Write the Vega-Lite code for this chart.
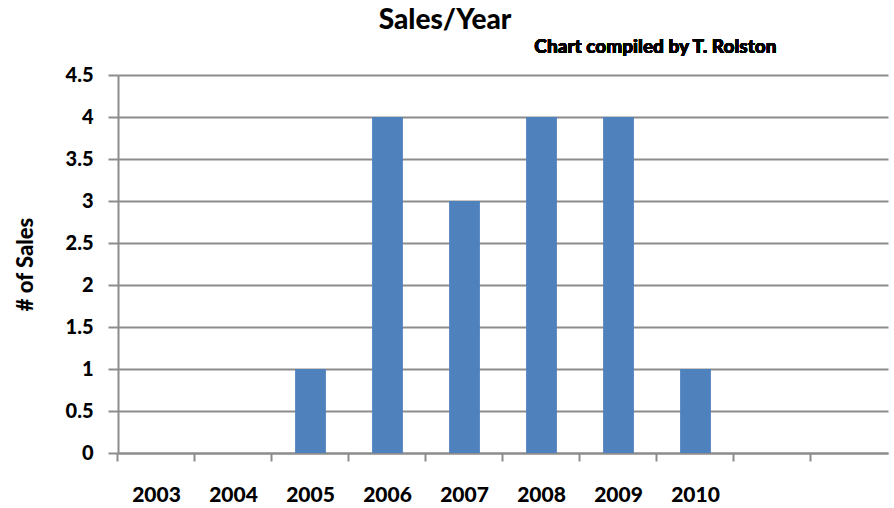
{
  "$schema": "https://vega.github.io/schema/vega-lite/v6.json",
  "width": 770,
  "height": 378,
  "autosize": {"type": "none"},
  "padding": {"left": 118, "top": 75, "right": 6, "bottom": 55},
  "background": "white",
  "title": {
    "text": "Sales/Year",
    "anchor": "middle",
    "frame": "group",
    "dx": -58,
    "offset": 3,
    "font": "Lato",
    "fontSize": 28,
    "fontWeight": 900,
    "color": "black"
  },
  "config": {
    "view": {"stroke": null},
    "font": "Lato"
  },
  "data": {
    "values": [
      {"year": "2003", "sales": 0},
      {"year": "2004", "sales": 0},
      {"year": "2005", "sales": 1},
      {"year": "2006", "sales": 4},
      {"year": "2007", "sales": 3},
      {"year": "2008", "sales": 4},
      {"year": "2009", "sales": 4},
      {"year": "2010", "sales": 1},
      {"year": "2011", "sales": 0},
      {"year": "2012", "sales": 0}
    ]
  },
  "layer": [
    {
      "mark": {"type": "bar", "color": "#4F81BD"},
      "encoding": {
        "x": {
          "field": "year",
          "type": "ordinal",
          "scale": {"paddingInner": 0.6, "paddingOuter": 0.3},
          "axis": {
            "title": null,
            "bandPosition": -0.75,
            "labelAngle": 0,
            "labelFont": "Lato",
            "labelFontSize": 21,
            "labelFontWeight": 900,
            "labelColor": "black",
            "labelPadding": 23,
            "labelExpr": "toNumber(datum.value) > 2010 ? '' : datum.label",
            "domainColor": "#8c8c8c",
            "domainWidth": 2,
            "tickColor": "#8c8c8c",
            "tickWidth": 2,
            "tickSize": 8,
            "grid": false
          }
        },
        "y": {
          "field": "sales",
          "type": "quantitative",
          "scale": {"domain": [0, 4.5], "nice": false},
          "axis": {
            "title": "# of Sales",
            "titleFont": "Lato",
            "titleFontSize": 22,
            "titleFontWeight": 900,
            "titleColor": "black",
            "titlePadding": 28,
            "values": [0, 0.5, 1, 1.5, 2, 2.5, 3, 3.5, 4, 4.5],
            "format": ".1~f",
            "labelFont": "Lato",
            "labelFontSize": 20,
            "labelFontWeight": 900,
            "labelColor": "black",
            "labelPadding": 15,
            "domainColor": "#8c8c8c",
            "domainWidth": 2,
            "tickColor": "#8c8c8c",
            "tickWidth": 2,
            "tickSize": 10,
            "grid": true,
            "gridColor": "#8c8c8c",
            "gridWidth": 2
          }
        }
      }
    },
    {
      "mark": {
        "type": "text",
        "text": "Chart compiled by T. Rolston",
        "font": "Lato",
        "fontSize": 19,
        "fontWeight": 900,
        "color": "black",
        "align": "center",
        "baseline": "middle",
        "dy": -28
      },
      "encoding": {
        "x": {"datum": "2010", "type": "ordinal", "bandPosition": -0.8},
        "y": {"datum": 4.5, "type": "quantitative"}
      }
    }
  ]
}
